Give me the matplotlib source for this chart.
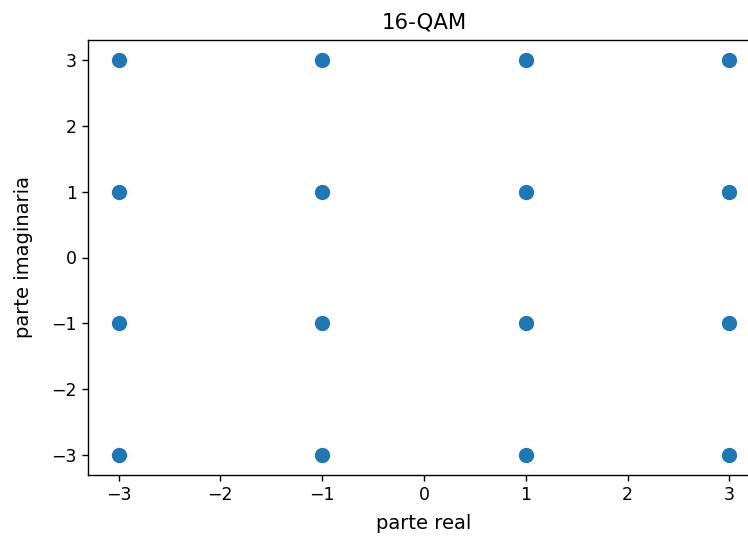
import numpy as np
import matplotlib.pyplot as plt

# 16-QAM constellation points
parte_real = [-3, -3, -3, -3, -1, -1, -1, -1, 1, 1, 1, 1, 3, 3, 3, 3]
parte_imag = [-3, -1, 1, 3, -3, -1, 1, 3, -3, -1, 1, 3, -3, -1, 1, 3]

plt.rcParams['xtick.labelsize'] = 12.5
plt.rcParams['ytick.labelsize'] = 12.5
plt.rcParams['xtick.major.size'] = 4.5
plt.rcParams['ytick.major.size'] = 4.5
plt.rcParams['xtick.major.width'] = 1.0
plt.rcParams['ytick.major.width'] = 1.0
plt.rcParams['axes.linewidth'] = 1.0

fig = plt.figure(figsize=(7.48, 5.37), dpi=100)
# axes runs past the right edge, like the cropped reference
ax = fig.add_axes([88 / 748, 1 - 475 / 537, 672 / 748, 435 / 537])

ax.scatter(np.array(parte_real), np.array(parte_imag), s=100, marker='o',
           color='#1f77b4')
ax.set_xlim(-3.3, 3.3)
ax.set_ylim(-3.3, 3.3)
ax.set_title("16-QAM", fontsize=15.3, pad=8)
ax.set_xlabel("parte real", fontsize=14, labelpad=7)
ax.set_ylabel("parte imaginaria", fontsize=14, labelpad=13)

fig.savefig("out.png", dpi=100)
plt.close(fig)
